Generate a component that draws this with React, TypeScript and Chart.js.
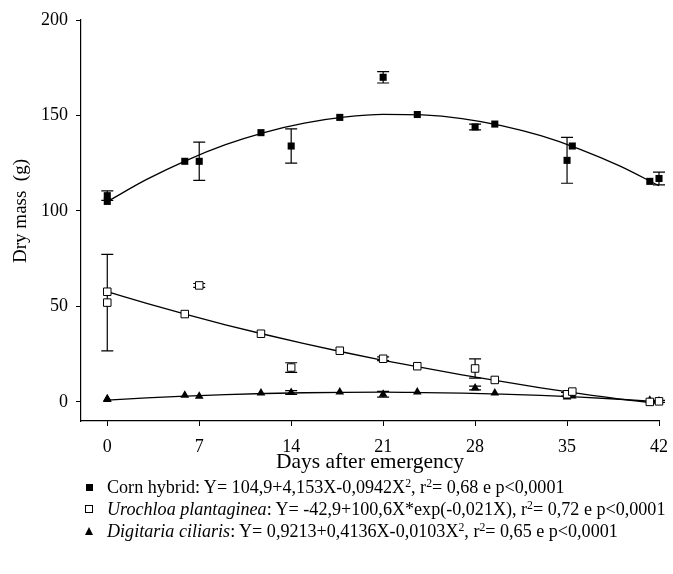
import React, { useEffect, useRef } from "react";
import { Chart, registerables } from "chart.js";

Chart.register(...registerables);

// Sampling days (offset series plotted next to the main days)
const sampleDays = [0, 0, 5.9, 7, 11.7, 14, 17.7, 21, 23.6, 28, 29.5, 35, 35.4, 41.3, 42];

const cornMass = [108, 105, 126, 126, 141, 134, 149, 170, 150.5, 144, 145.5, 126.5, 134, 115.5, 117];
const cornErr = [2.5, 0, 0, 10, 0, 9, 0, 3, 0, 1.5, 0, 12, 0, 0, 3.3];

const uroMass = [57.7, 52, 46, 61, 35.7, 18, 26.8, 22.6, 18.7, 17.5, 11.5, 4, 5.4, 0, 0.3];
const uroErr = [0, 25.3, 0, 1, 0, 2.5, 0, 1, 0, 5, 0, 1, 0, 0, 0.5];

const digMass = [1.7, 1.2, 3.5, 3, 4.7, 4.9, 5.2, 4, 5.2, 7.3, 4.7, 2.6, 3.1, 0.9, 0.5];
const digErr = [0, 0, 0, 0, 0, 1, 0, 1.5, 0, 1, 0, 0, 0, 0, 0];

// Fitted curves
const fitDays = [0, 3, 6, 9, 12, 15, 18, 21, 24, 27, 30, 33, 36, 39, 42];
const cornFit = [104.9, 116.5, 126.4, 134.7, 141.2, 146.0, 149.1, 150.6, 150.3, 148.4, 144.7, 139.4, 132.3, 123.6, 113.2];
const uroFit = [57.7, 51.6, 45.8, 40.4, 35.3, 30.5, 26.0, 21.8, 17.9, 14.2, 10.7, 7.4, 4.3, 1.5, -0.8];
const digFit = [0.9, 2.1, 3.0, 3.8, 4.4, 4.8, 5.0, 5.1, 4.9, 4.6, 4.1, 3.4, 2.5, 1.4, 0.1];

const xTicks = [0, 7, 14, 21, 28, 35, 42];
const yTicks = [0, 50, 100, 150, 200];
const yTitle = "Dry mass  (g)";
const yTitleAnchor = 100;

const FONT = "'Liberation Serif', 'Times New Roman', Times, serif";

const pts = (xs: number[], ys: number[]) => xs.map((x, i) => ({ x, y: ys[i] }));

const errorBars = {
  id: "errorBars",
  beforeDatasetsDraw(chart: any) {
    const ctx = chart.ctx;
    const xs = chart.scales.x;
    const ys = chart.scales.y;
    ctx.save();
    ctx.strokeStyle = "#000";
    ctx.lineWidth = 1.2;
    chart.data.datasets.forEach((ds: any) => {
      if (!ds.errors) return;
      ds.data.forEach((p: any, i: number) => {
        const e = ds.errors[i];
        if (!e) return;
        const px = xs.getPixelForValue(p.x);
        const t = ys.getPixelForValue(p.y + e);
        const b = ys.getPixelForValue(p.y - e);
        ctx.beginPath();
        ctx.moveTo(px, t);
        ctx.lineTo(px, b);
        ctx.moveTo(px - 6, t);
        ctx.lineTo(px + 6, t);
        ctx.moveTo(px - 6, b);
        ctx.lineTo(px + 6, b);
        ctx.stroke();
      });
    });
    ctx.restore();
  },
};

const yTitlePlugin = {
  id: "yTitle",
  afterDraw(chart: any) {
    const ctx = chart.ctx;
    const ys = chart.scales.y;
    const cy = ys.getPixelForValue(yTitleAnchor);
    ctx.save();
    ctx.translate(21, cy);
    ctx.rotate(-Math.PI / 2);
    ctx.fillStyle = "#000";
    ctx.font = `19px ${FONT}`;
    ctx.textAlign = "center";
    ctx.textBaseline = "middle";
    ctx.fillText(yTitle, 0, 0);
    ctx.restore();
  },
};

function Marker({ kind }: { kind: string }) {
  const base: React.CSSProperties = { display: "inline-block", boxSizing: "border-box" };
  if (kind === "filled") return <span style={{ ...base, width: 7, height: 7, background: "#000" }} />;
  if (kind === "open") return <span style={{ ...base, width: 8, height: 8, border: "1px solid #000", background: "#fff" }} />;
  return (
    <span
      style={{
        ...base,
        width: 0,
        height: 0,
        borderLeft: "4.5px solid transparent",
        borderRight: "4.5px solid transparent",
        borderBottom: "8px solid #000",
      }}
    />
  );
}

const Sup = ({ children }: { children: React.ReactNode }) => (
  <span style={{ fontSize: "0.65em", position: "relative", top: "-0.55em", lineHeight: 0 }}>{children}</span>
);

export default function App() {
  const ref = useRef<HTMLCanvasElement | null>(null);

  useEffect(() => {
    if (!ref.current) return;
    const lineDs = (data: number[]) => ({
      type: "line" as const,
      data: pts(fitDays, data),
      borderColor: "#000",
      borderWidth: 1.3,
      pointRadius: 0,
      fill: false,
      cubicInterpolationMode: "monotone" as const,
      order: 2,
      clip: false,
    });
    const chart = new Chart(ref.current, {
      type: "scatter",
      data: {
        datasets: [
          lineDs(cornFit),
          lineDs(uroFit),
          lineDs(digFit),
          {
            label: "Corn hybrid",
            data: pts(sampleDays, cornMass),
            errors: cornErr,
            pointStyle: "rect",
            pointRadius: 5,
            backgroundColor: "#000",
            borderColor: "#000",
            borderWidth: 0,
            order: 1,
            clip: false,
          } as any,
          {
            label: "Urochloa plantaginea",
            data: pts(sampleDays, uroMass),
            errors: uroErr,
            pointStyle: "rect",
            pointRadius: 5.3,
            backgroundColor: "#fff",
            borderColor: "#000",
            borderWidth: 1,
            order: 1,
            clip: false,
          } as any,
          {
            label: "Digitaria ciliaris",
            data: pts(sampleDays, digMass),
            errors: digErr,
            pointStyle: "triangle",
            pointRadius: 5,
            backgroundColor: "#000",
            borderColor: "#000",
            borderWidth: 0,
            order: 1,
            clip: false,
          } as any,
        ],
      },
      options: {
        animation: false,
        responsive: false,
        layout: { padding: { left: 0, right: 14, top: 20, bottom: 0 } },
        plugins: { legend: { display: false }, tooltip: { enabled: false } },
        scales: {
          x: {
            type: "linear",
            min: -2,
            max: 42,
            afterBuildTicks: (s: any) => {
              s.ticks = xTicks.map((v) => ({ value: v }));
            },
            afterFit: (s: any) => {
              s.height = 59;
              s.paddingLeft = 0;
              s.paddingRight = 0;
            },
            grid: { display: true, drawOnChartArea: false, drawTicks: true, tickLength: 5, color: "#000", lineWidth: 1 },
            border: { display: true, color: "#000", width: 1.2 },
            ticks: { color: "#000", font: { family: FONT, size: 18 }, padding: 10, maxRotation: 0 },
            title: {
              display: true,
              text: "Days after emergency",
              color: "#000",
              font: { family: FONT, size: 21.5 },
              padding: { top: 0, bottom: 5 },
            },
          },
          y: {
            type: "linear",
            min: -10,
            max: 200,
            afterBuildTicks: (s: any) => {
              s.ticks = yTicks.map((v) => ({ value: v }));
            },
            afterFit: (s: any) => {
              s.width = 81;
              s.paddingTop = 0;
              s.paddingBottom = 0;
            },
            grid: { display: true, drawOnChartArea: false, drawTicks: true, tickLength: 5, color: "#000", lineWidth: 1 },
            border: { display: true, color: "#000", width: 1.2 },
            ticks: { color: "#000", font: { family: FONT, size: 18 }, padding: 8 },
            title: { display: false },
          },
        },
      },
      plugins: [errorBars, yTitlePlugin],
    });
    return () => chart.destroy();
  }, []);

  const rowStyle: React.CSSProperties = {
    position: "absolute",
    left: 0,
    height: 22,
    lineHeight: "22px",
    whiteSpace: "nowrap",
    fontSize: 18.1,
  };
  const markStyle: React.CSSProperties = {
    position: "absolute",
    left: 84,
    top: 0,
    height: 22,
    width: 10,
    display: "flex",
    alignItems: "center",
    justifyContent: "center",
  };
  const textStyle: React.CSSProperties = { position: "absolute", left: 107, top: 0 };

  return (
    <div
      style={{
        position: "absolute",
        left: 0,
        top: 0,
        width: 673,
        height: 574,
        background: "#fff",
        fontFamily: FONT,
        color: "#000",
        overflow: "hidden",
      }}
    >
      <canvas ref={ref} width={673} height={480} style={{ position: "absolute", left: 0, top: 0, width: 673, height: 480 }} />
      <div style={{ ...rowStyle, top: 476 }}>
        <div style={markStyle}><Marker kind="filled" /></div>
        <div style={textStyle}>
          Corn hybrid: Y= 104,9+4,153X-0,0942X<Sup>2</Sup>, r<Sup>2</Sup>= 0,68 e p&lt;0,0001
        </div>
      </div>
      <div style={{ ...rowStyle, top: 498 }}>
        <div style={markStyle}><Marker kind="open" /></div>
        <div style={textStyle}>
          <i>Urochloa plantaginea</i>: Y= -42,9+100,6X*exp(-0,021X), r<Sup>2</Sup>= 0,72 e p&lt;0,0001
        </div>
      </div>
      <div style={{ ...rowStyle, top: 520 }}>
        <div style={markStyle}><Marker kind="triangle" /></div>
        <div style={textStyle}>
          <i>Digitaria ciliaris</i>: Y= 0,9213+0,4136X-0,0103X<Sup>2</Sup>, r<Sup>2</Sup>= 0,65 e p&lt;0,0001
        </div>
      </div>
    </div>
  );
}
